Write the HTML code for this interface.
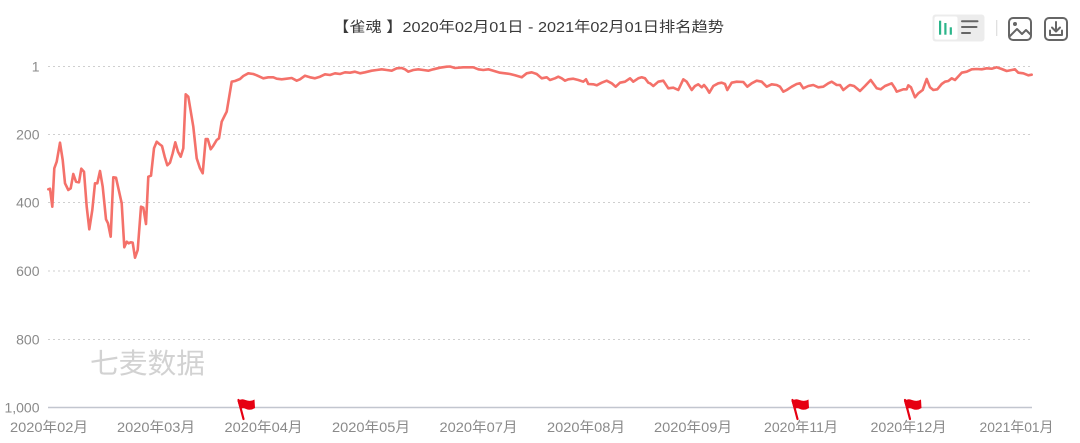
<!DOCTYPE html>
<html><head><meta charset="utf-8"><style>
html,body{margin:0;padding:0;background:#fff;}
svg{display:block;}
text{font-family:"Liberation Sans","Noto Sans CJK SC",sans-serif;}
</style></head><body>
<svg width="1080" height="443" viewBox="0 0 1080 443" xmlns="http://www.w3.org/2000/svg">
<rect width="1080" height="443" fill="#fff"/>
<!-- title -->
<text x="333" y="32" font-size="14.5" fill="#3a3a3a" textLength="391" lengthAdjust="spacingAndGlyphs">【雀魂 】2020年02月01日 - 2021年02月01日排名趋势</text>
<!-- toolbar -->
<rect x="932.5" y="14.5" width="52" height="27" rx="3" fill="#ececec"/>
<rect x="934.5" y="16.5" width="23" height="23" rx="2" fill="#fff"/>
<rect x="939" y="20.7" width="2.2" height="14" fill="#2bb58a"/>
<rect x="944.3" y="23" width="2.2" height="11.7" fill="#2bb58a"/>
<rect x="949.7" y="27.3" width="2.2" height="7.4" fill="#2bb58a"/>
<g stroke="#666" stroke-width="2" stroke-linecap="round">
<line x1="962" y1="21.3" x2="977.5" y2="21.3"/>
<line x1="962" y1="27" x2="976.5" y2="27"/>
<line x1="962" y1="33" x2="970" y2="33"/>
</g>
<line x1="996.7" y1="20" x2="996.7" y2="36" stroke="#ddd" stroke-width="1.2"/>
<g fill="none" stroke="#666" stroke-width="2" stroke-linejoin="round" stroke-linecap="round">
<rect x="1009" y="18" width="22" height="22" rx="4"/>
<polyline points="1010,36 1017,29 1022,34 1026,30 1030.5,34.5"/>
<rect x="1045" y="18" width="22" height="22" rx="4"/>
<line x1="1056" y1="22" x2="1056" y2="31"/>
<polyline points="1052,27.5 1056,31.5 1060,27.5"/>
<polyline points="1050,30.5 1050,35 1062,35 1062,30.5"/>
</g>
<circle cx="1015" cy="24" r="2" fill="#666"/>
<!-- gridlines -->
<g stroke="#cfcfcf" stroke-width="1" stroke-dasharray="2,3">
<line x1="48" y1="66.5" x2="1032" y2="66.5"/>
<line x1="48" y1="134.5" x2="1032" y2="134.5"/>
<line x1="48" y1="202.5" x2="1032" y2="202.5"/>
<line x1="48" y1="271" x2="1032" y2="271"/>
<line x1="48" y1="339.5" x2="1032" y2="339.5"/>
</g>
<line x1="48" y1="407.5" x2="1032" y2="407.5" stroke="#c2c6cf" stroke-width="1.5"/>
<!-- y labels -->
<g font-size="14" fill="#8a8a8a" text-anchor="end">
<text x="39.5" y="71.5">1</text>
<text x="39.5" y="139.5">200</text>
<text x="39.5" y="207.5">400</text>
<text x="39.5" y="276">600</text>
<text x="39.5" y="344.5">800</text>
<text x="39.5" y="412.5">1,000</text>
</g>
<!-- x labels -->
<g font-size="14" fill="#8a8a8a" text-anchor="middle">
<text x="49" y="432" textLength="78" lengthAdjust="spacingAndGlyphs">2020年02月</text>
<text x="156" y="432" textLength="78" lengthAdjust="spacingAndGlyphs">2020年03月</text>
<text x="263.5" y="432" textLength="78" lengthAdjust="spacingAndGlyphs">2020年04月</text>
<text x="371" y="432" textLength="78" lengthAdjust="spacingAndGlyphs">2020年05月</text>
<text x="478.5" y="432" textLength="78" lengthAdjust="spacingAndGlyphs">2020年07月</text>
<text x="586" y="432" textLength="78" lengthAdjust="spacingAndGlyphs">2020年08月</text>
<text x="693" y="432" textLength="78" lengthAdjust="spacingAndGlyphs">2020年09月</text>
<text x="801" y="432" textLength="74" lengthAdjust="spacingAndGlyphs">2020年11月</text>
<text x="908.5" y="432" textLength="76" lengthAdjust="spacingAndGlyphs">2020年12月</text>
<text x="1016.5" y="432" textLength="74" lengthAdjust="spacingAndGlyphs">2021年01月</text>
</g>
<!-- watermark -->
<text x="90" y="373" font-size="28" fill="#d2d2d2" textLength="115" lengthAdjust="spacingAndGlyphs">七麦数据</text>
<!-- series -->
<polyline fill="none" stroke="#f4716a" stroke-width="2.6" stroke-linejoin="round" stroke-linecap="round" points="
48.3,189.3 50,188.7 52.3,206.7 54.3,168.3 56.7,161.7 60,142.7 62.7,160 65,183.3 68.3,190 70.7,188.3 73.3,174 76,181.7 79,182.3 81.3,168.7 84,171.7 86.7,206.7 89.3,229.3 92.3,210 95,183.3 97.3,183.3 100,171 102.7,186.7 106,219.3 108,223.3 110.7,236.7 113.3,177.3 116,177.7 121.7,203.3 124.3,247.3 126.7,241.7 128.7,243.3 130.7,242.3 132.7,242.7 135,257.7 137.7,250 141,206.7 143.3,207.7 146,224 148.3,176.7 151,175.7 154,148.3 156.7,141.7 159.3,144 162,146 164.7,156.7 167.3,165.3 170,162.7 172.7,153.3 175.3,142.3 178,151.7 180.7,156.7 183.3,148.3 185.7,94.3 188.3,96.7 193.3,126.7 196.7,158.3 200,168.3 202.7,173.3 205.7,139 207.7,139 210.7,149.3 213.3,145.7 216.7,140 219,138.3 221.7,121.7 225,115 226.7,111.7 231.7,81.7 235,81 240,79 243.3,76 248.3,73.3 253.3,74 256.7,75.3
263.3,78.3 268.3,77.3 273.3,77.3 276.7,78.7 281.7,79.3 286.7,78.7 291.7,78 296.7,80.7 300,79.3 305,75.7 310,77.3 315,78.3 320,76.7 325,74.3 330,75 335,73.3 340,74 345,72.3 350,72.7 355,71.7 360,73.3 365,72.3 371.7,70.7 376.7,70 381.7,69.3 386.7,70 391.7,70.7 396.7,68.3 401.7,68 405,69.3 408.3,71.7 413.3,70 418.3,69.3 423.3,70 428.3,70.7 433.3,69.3 440,67.7 446.7,66.7 450,66.5
455,68 463.3,67.3 473.3,67.3 478.3,69.3 483.3,70 488.3,69.3 495,71.3 500,72.7 505,73.3 510,74 515,75.3 521.7,77.3 526.7,73.3 531.7,72.3 536.7,74 541.7,78.3 546.7,77.3 550,80 555,78.3 558.3,76.7 561.7,78.3 565,80.7 568.3,79.3 573.3,78.7 578.3,80 583.3,81.7 586,79.3 588.3,84 593.3,84.3 596.7,85.3 601.7,82.7 606.7,80.7 611.7,83.3 615.7,86.7 620,82.7 625,81.7 630,78.3 633.3,81.7 638.3,78.3 641.7,77.3 645,78.3 648.3,82.7 650,83.3
653.3,86 658.3,81.7 663.3,80.7 668.3,88.3 673.3,87.7 678.3,90 683.3,79.3 686.7,81.7 691.7,90 695,86 698.3,84.3 701.7,87.3 704,85 706.7,88.3 709.3,92.7 713.3,86 718.3,83.3 721.7,82.7 725,84 727.3,90 731.7,82.7 736.7,81.7 743.3,82 747.3,86.7 751.7,83.3 756.7,80.7 761.7,81.7 766.7,86.7 771.7,84.3 776.7,85 780,86.7 783.3,91.7 786.7,90 791.7,86.7 796.7,84 800,83.3 803.3,88.3 808.3,86 813.3,85 818.3,87.3 823.3,86.7 828.3,83.3 831.7,81.7 836.7,85 840,85 843.3,90 848.3,86 850,85
854,86 860,91 865,86 870.7,80 876.7,88.3 880.7,89.3 885,86 891.7,83.3 895,88.3 896.7,91.7 903.3,89.3 906.7,89.3 908.3,85.3 911,87.3 915,97.3 918.3,93.3 922.7,90 926.7,79 930,87.3 933.3,90 937.3,89.3 941.7,84 945,81.7 948.3,81 951.7,78.3 955,80 961.7,72.7 966.7,71.7 971.7,69.3 976.7,69 981.7,69.3 986.7,68.3 991.7,68.7 996.7,67.3 1001.7,69 1006.7,71 1011.7,70 1015,69.3 1018.3,72.7 1023.3,73.3 1028.3,75.3 1031.7,74.7"/>
<!-- flags -->
<defs>
<g id="flag">
<line x1="2" y1="1" x2="7" y2="20" stroke="#e60012" stroke-width="2.2" stroke-linecap="round"/>
<path d="M1,2 Q5,-1 9,1 Q14,3 18,0.5 L18.5,9 Q14,12 9.5,10 Q6,8 3.5,10.5 Z" fill="#e60012"/>
</g>
</defs>
<use href="#flag" x="236.5" y="399"/>
<use href="#flag" x="790.5" y="399"/>
<use href="#flag" x="903" y="399"/>
</svg>
</body></html>
